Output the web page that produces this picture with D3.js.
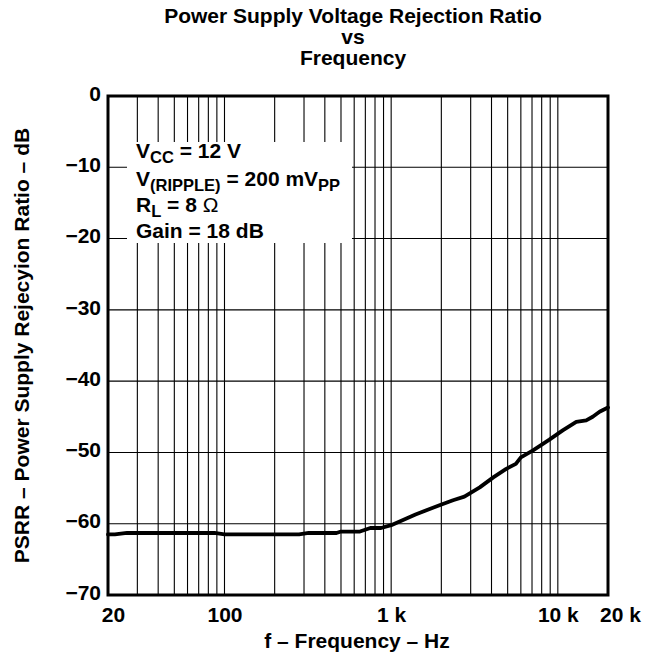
<!DOCTYPE html>
<html>
<head>
<meta charset="utf-8">
<script src="https://cdn.jsdelivr.net/npm/d3@7"></script>
<style>
  html, body { margin: 0; padding: 0; background: #fff; }
  svg { display: block; font-family: "Liberation Sans", Arial, Helvetica, sans-serif; font-weight: bold; }
</style>
</head>
<body>
<svg id="chart" width="652" height="660"></svg>
<script>
// ---- data ----
const freqHz = [20, 22, 26, 40, 60, 87, 100, 150, 200, 280, 320, 470, 500, 650, 750, 870, 1000,
  1400, 1950, 2350, 2750, 3400, 4100, 4900, 5600, 6000, 7100, 8900, 10700, 12900, 14800, 16200, 17800, 20000];
const psrrDb = [-61.5, -61.5, -61.3, -61.3, -61.3, -61.3, -61.5, -61.5, -61.5, -61.5, -61.3, -61.3, -61.1, -61.1, -60.6, -60.6, -60.2,
  -58.7, -57.4, -56.7, -56.2, -54.9, -53.5, -52.3, -51.6, -50.7, -49.7, -48.2, -46.9, -45.7, -45.5, -45.0, -44.3, -43.7];
const yTickValues = [0, -10, -20, -30, -40, -50, -60, -70];
const xTickValues = [20, 100, 1000, 10000, 20000];
const xTickLabels = ["20", "100", "1 k", "10 k", "20 k"];
const titleLines = ["Power Supply Voltage Rejection Ratio", "vs", "Frequency"];
const xTitle = "f \u2013 Frequency \u2013 Hz";
const yTitle = "PSRR \u2013 Power Supply Rejecyion Ratio \u2013 dB";

// ---- layout ----
const svg = d3.select("#chart");
const L = 108, R = 608, T = 96, B = 595;
const x = d3.scaleLog().domain([20, 20000]).range([L, R]);
const y = d3.scaleLinear().domain([-70, 0]).range([B, T]);
const FS = 21;

// title
svg.append("g").selectAll("text").data(titleLines).join("text")
  .attr("x", 353).attr("y", (d, i) => 22.5 + i * 21.2)
  .attr("text-anchor", "middle").attr("font-size", FS).text(d => d);

// grid lines
const gridFreqs = [];
[10, 100, 1000, 10000].forEach(dec => {
  for (let m = 1; m <= 9; m++) {
    const f = dec * m;
    if (f > 20 && f < 20000) gridFreqs.push(f);
  }
});
const grid = svg.append("g").attr("stroke", "#000").attr("stroke-width", 1.1);
grid.selectAll("line.v").data(gridFreqs).join("line").attr("class", "v")
  .attr("x1", d => x(d)).attr("x2", d => x(d)).attr("y1", T).attr("y2", B);
grid.selectAll("line.h").data(yTickValues.filter(v => v > -70 && v < 0)).join("line").attr("class", "h")
  .attr("x1", L).attr("x2", R).attr("y1", d => y(d)).attr("y2", d => y(d));

// annotation box
svg.append("rect").attr("x", 127).attr("y", 142).attr("width", 225).attr("height", 101).attr("fill", "#fff");
const ann = svg.append("g").attr("font-size", 21);
function line(yy, parts) {
  const t = ann.append("text").attr("x", 136).attr("y", yy);
  parts.forEach(p => {
    const s = t.append("tspan").text(p.t);
    if (p.sub) s.attr("font-size", 16.5).attr("dy", 5);
    if (p.up) s.attr("dy", -5);
    if (p.normal) s.attr("font-weight", "normal");
  });
}
line(158, [{t: "V"}, {t: "CC", sub: true}, {t: " = 12 V", up: true}]);
line(185.5, [{t: "V"}, {t: "(RIPPLE)", sub: true}, {t: " = 200 mV", up: true}, {t: "PP", sub: true}]);
line(212, [{t: "R"}, {t: "L", sub: true}, {t: " = 8 ", up: true}, {t: "\u03A9", normal: true}]);
line(238, [{t: "Gain = 18 dB"}]);

// curve
const lineGen = d3.line().x(d => x(d[0])).y(d => y(d[1]));
svg.append("path").datum(freqHz.map((f, i) => [f, psrrDb[i]]))
  .attr("d", lineGen).attr("fill", "none").attr("stroke", "#000")
  .attr("stroke-width", 3.8).attr("stroke-linejoin", "round").attr("stroke-linecap", "round");

// frame
svg.append("rect").attr("x", L).attr("y", T).attr("width", R - L).attr("height", B - T)
  .attr("fill", "none").attr("stroke", "#000").attr("stroke-width", 3);

// y axis
const yAxis = svg.append("g").attr("transform", `translate(${L},0)`)
  .call(d3.axisLeft(y).tickValues(yTickValues).tickSize(0).tickPadding(7));
yAxis.select(".domain").remove();
yAxis.selectAll("text").attr("font-size", FS).attr("font-family", null).attr("fill", "#000").attr("dy", "0.2em");

// x axis
const xOffsets = [5, 0, 0, 0, 12];
const xAxis = svg.append("g").attr("transform", `translate(0,${B})`)
  .call(d3.axisBottom(x).tickValues(xTickValues).tickSize(0).tickPadding(12)
    .tickFormat((d, i) => xTickLabels[i]));
xAxis.select(".domain").remove();
xAxis.selectAll("text").attr("font-size", FS).attr("font-family", null).attr("fill", "#000")
  .attr("dx", (d, i) => xOffsets[i]);

// axis titles
svg.append("text").attr("x", 357).attr("y", 648).attr("text-anchor", "middle")
  .attr("font-size", FS).text(xTitle);
svg.append("text").attr("transform", `translate(29,${(T + B) / 2}) rotate(-90)`)
  .attr("text-anchor", "middle").attr("font-size", FS).text(yTitle);
</script>
</body>
</html>
